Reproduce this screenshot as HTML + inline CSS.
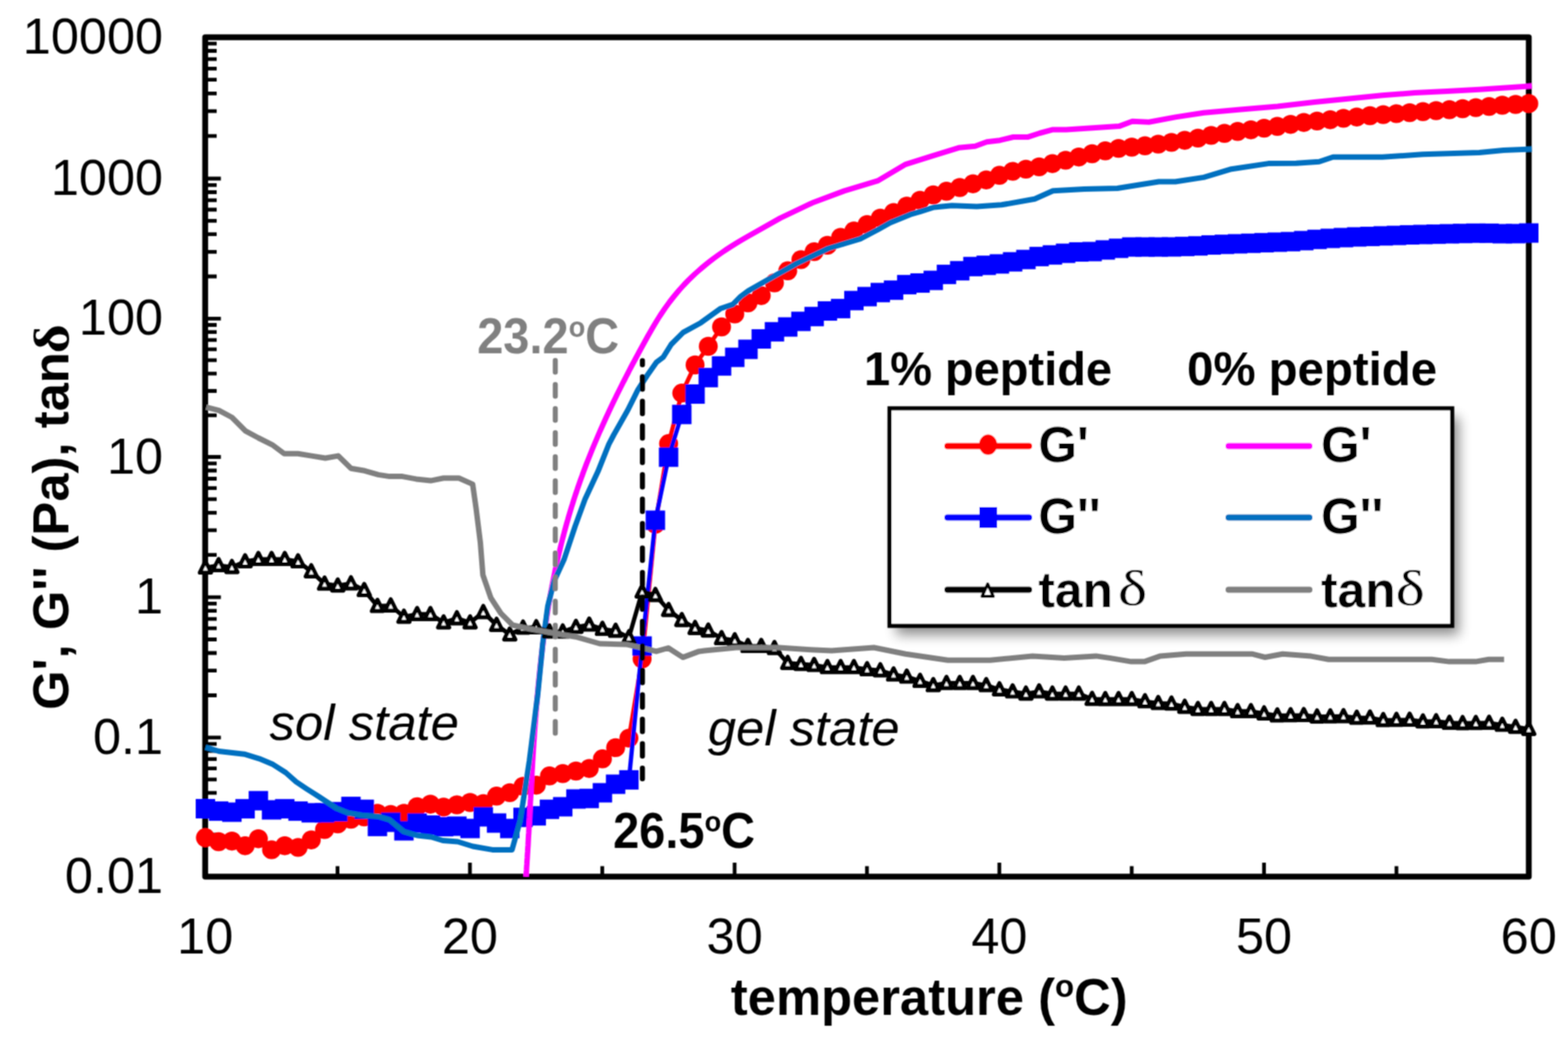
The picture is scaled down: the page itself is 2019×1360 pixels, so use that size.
<!DOCTYPE html>
<html><head><meta charset="utf-8"><title>chart</title>
<style>html,body{margin:0;padding:0;background:#fff;width:2019px;height:1360px;overflow:hidden}svg{display:block}</style>
</head><body>
<svg width="2019" height="1360" viewBox="0 0 2019 1360">
<defs><clipPath id="pc"><rect x="254.5" y="8.5" width="1724.0" height="1120.5"/></clipPath>
<filter id="sh" x="-10%" y="-20%" width="120%" height="140%"><feGaussianBlur stdDeviation="8"/></filter><filter id="soft" filterUnits="userSpaceOnUse" x="0" y="0" width="2019" height="1360"><feConvolveMatrix order="3" kernelMatrix="1 2 1 2 4 2 1 2 1" divisor="16" edgeMode="none"/></filter></defs>
<rect width="2019" height="1360" fill="#fff"/>
<g filter="url(#soft)">
<path d="M264.5 175.2H279.0M264.5 143.1H279.0M264.5 120.4H279.0M264.5 102.7H279.0M264.5 88.3H279.0M264.5 76.1H279.0M264.5 65.5H279.0M264.5 56.2H279.0M264.5 356.0H279.0M264.5 324.3H279.0M264.5 301.7H279.0M264.5 284.3H279.0M264.5 270.0H279.0M264.5 257.9H279.0M264.5 247.5H279.0M264.5 238.3H279.0M264.5 534.9H279.0M264.5 503.5H279.0M264.5 481.2H279.0M264.5 463.9H279.0M264.5 449.8H279.0M264.5 437.9H279.0M264.5 427.6H279.0M264.5 418.5H279.0M264.5 714.7H279.0M264.5 682.9H279.0M264.5 660.4H279.0M264.5 642.9H279.0M264.5 628.6H279.0M264.5 616.5H279.0M264.5 606.0H279.0M264.5 596.8H279.0M264.5 895.5H279.0M264.5 863.6H279.0M264.5 841.0H279.0M264.5 823.5H279.0M264.5 809.2H279.0M264.5 797.1H279.0M264.5 786.6H279.0M264.5 777.4H279.0M264.5 1075.0H279.0M264.5 1043.5H279.0M264.5 1021.1H279.0M264.5 1003.8H279.0M264.5 989.6H279.0M264.5 977.6H279.0M264.5 967.2H279.0M264.5 958.1H279.0M264.5 230.0H284.4M264.5 410.3H284.4M264.5 588.5H284.4M264.5 769.1H284.4M264.5 949.9H284.4M434.6 1129.0V1115.5M605.1 1129.0V1111.0M775.5 1129.0V1115.5M945.9 1129.0V1111.0M1116.3 1129.0V1115.5M1286.8 1129.0V1111.0M1457.2 1129.0V1115.5M1627.6 1129.0V1111.0M1798.1 1129.0V1115.5" stroke="#000" stroke-width="4.8" fill="none" stroke-linecap="butt"/>
<rect x="264.2" y="47.9" width="1704.3" height="1081.0" fill="none" stroke="#000" stroke-width="7.5" stroke-linejoin="round"/>
<text x="210" y="68.9" font-family="Liberation Sans, Arial, sans-serif" font-size="65" text-anchor="end">10000</text>
<text x="210" y="251.0" font-family="Liberation Sans, Arial, sans-serif" font-size="65" text-anchor="end">1000</text>
<text x="210" y="431.3" font-family="Liberation Sans, Arial, sans-serif" font-size="65" text-anchor="end">100</text>
<text x="210" y="609.5" font-family="Liberation Sans, Arial, sans-serif" font-size="65" text-anchor="end">10</text>
<text x="210" y="790.1" font-family="Liberation Sans, Arial, sans-serif" font-size="65" text-anchor="end">1</text>
<text x="210" y="970.9" font-family="Liberation Sans, Arial, sans-serif" font-size="65" text-anchor="end">0.1</text>
<text x="210" y="1149.9" font-family="Liberation Sans, Arial, sans-serif" font-size="65" text-anchor="end">0.01</text>
<text x="264.2" y="1227.5" font-family="Liberation Sans, Arial, sans-serif" font-size="65" text-anchor="middle">10</text>
<text x="605.1" y="1227.5" font-family="Liberation Sans, Arial, sans-serif" font-size="65" text-anchor="middle">20</text>
<text x="945.9" y="1227.5" font-family="Liberation Sans, Arial, sans-serif" font-size="65" text-anchor="middle">30</text>
<text x="1286.8" y="1227.5" font-family="Liberation Sans, Arial, sans-serif" font-size="65" text-anchor="middle">40</text>
<text x="1627.6" y="1227.5" font-family="Liberation Sans, Arial, sans-serif" font-size="65" text-anchor="middle">50</text>
<text x="1968.5" y="1227.5" font-family="Liberation Sans, Arial, sans-serif" font-size="65" text-anchor="middle">60</text>
<text transform="translate(1196.5,1307.5) scale(1.005,1.03)" font-family="Liberation Sans, Arial, sans-serif" font-size="65" font-weight="bold" text-anchor="middle">temperature (<tspan font-size="40" dy="-23">o</tspan><tspan dy="23">C)</tspan></text>
<text transform="translate(87.5,453.5) rotate(-90)" font-family="Liberation Sans, Arial, sans-serif" font-size="65.4" font-weight="bold" text-anchor="end">G', G'' (Pa), tan</text>
<text transform="translate(87.5,455) rotate(-90) scale(1.13,1)" font-family="Liberation Serif, serif" font-size="64" font-weight="bold">&#948;</text>
<polyline points="264.5,1078.8 281.5,1084.0 298.6,1083.2 315.6,1089.2 332.7,1080.2 349.7,1094.4 366.7,1089.2 383.8,1091.4 400.8,1081.7 417.9,1068.4 434.9,1061.0 451.9,1055.0 469.0,1052.0 486.0,1047.5 503.1,1049.0 520.1,1047.5 537.1,1039.0 554.2,1035.7 571.2,1039.4 588.3,1036.5 605.3,1033.5 622.3,1035.0 639.4,1025.3 656.4,1020.9 673.5,1012.7 690.5,1011.2 707.5,999.3 724.6,996.3 741.6,993.0 758.7,989.7 775.7,977.3 792.7,962.9 809.8,950.6 826.8,848.5 843.9,675.0 860.9,571.3 877.9,506.3 895.0,470.0 912.0,446.0 929.1,421.0 946.1,404.4 963.1,390.0 980.2,380.7 997.2,364.3 1014.3,348.8 1031.3,334.4 1048.3,324.1 1065.4,315.9 1082.4,305.6 1099.5,297.4 1116.5,289.1 1133.5,280.9 1150.6,273.7 1167.6,265.4 1184.7,257.9 1201.7,251.0 1218.7,246.3 1235.8,241.5 1252.8,236.7 1269.9,231.7 1286.9,225.8 1303.9,220.6 1321.0,217.9 1338.0,214.9 1355.1,210.7 1372.1,206.4 1389.1,202.2 1406.2,198.0 1423.2,194.3 1440.3,191.1 1457.3,189.5 1474.3,187.8 1491.4,185.6 1508.4,183.4 1525.5,180.7 1542.5,177.9 1559.5,174.4 1576.6,171.8 1593.6,169.3 1610.7,167.2 1627.7,165.1 1644.7,162.8 1661.8,160.2 1678.8,157.7 1695.9,155.9 1712.9,154.2 1729.9,152.4 1747.0,150.7 1764.0,149.0 1781.1,147.6 1798.1,146.4 1815.1,145.1 1832.2,143.8 1849.2,142.5 1866.3,141.3 1883.3,140.0 1900.3,138.6 1917.4,137.1 1934.4,135.5 1951.5,134.5 1968.5,133.4" fill="none" stroke="#FF0000" stroke-width="5.5" stroke-linejoin="round"/>
<g fill="#FF0000"><circle cx="264.5" cy="1078.8" r="12.2"/><circle cx="281.5" cy="1084.0" r="12.2"/><circle cx="298.6" cy="1083.2" r="12.2"/><circle cx="315.6" cy="1089.2" r="12.2"/><circle cx="332.7" cy="1080.2" r="12.2"/><circle cx="349.7" cy="1094.4" r="12.2"/><circle cx="366.7" cy="1089.2" r="12.2"/><circle cx="383.8" cy="1091.4" r="12.2"/><circle cx="400.8" cy="1081.7" r="12.2"/><circle cx="417.9" cy="1068.4" r="12.2"/><circle cx="434.9" cy="1061.0" r="12.2"/><circle cx="451.9" cy="1055.0" r="12.2"/><circle cx="469.0" cy="1052.0" r="12.2"/><circle cx="486.0" cy="1047.5" r="12.2"/><circle cx="503.1" cy="1049.0" r="12.2"/><circle cx="520.1" cy="1047.5" r="12.2"/><circle cx="537.1" cy="1039.0" r="12.2"/><circle cx="554.2" cy="1035.7" r="12.2"/><circle cx="571.2" cy="1039.4" r="12.2"/><circle cx="588.3" cy="1036.5" r="12.2"/><circle cx="605.3" cy="1033.5" r="12.2"/><circle cx="622.3" cy="1035.0" r="12.2"/><circle cx="639.4" cy="1025.3" r="12.2"/><circle cx="656.4" cy="1020.9" r="12.2"/><circle cx="673.5" cy="1012.7" r="12.2"/><circle cx="690.5" cy="1011.2" r="12.2"/><circle cx="707.5" cy="999.3" r="12.2"/><circle cx="724.6" cy="996.3" r="12.2"/><circle cx="741.6" cy="993.0" r="12.2"/><circle cx="758.7" cy="989.7" r="12.2"/><circle cx="775.7" cy="977.3" r="12.2"/><circle cx="792.7" cy="962.9" r="12.2"/><circle cx="809.8" cy="950.6" r="12.2"/><circle cx="826.8" cy="848.5" r="12.2"/><circle cx="843.9" cy="675.0" r="12.2"/><circle cx="860.9" cy="571.3" r="12.2"/><circle cx="877.9" cy="506.3" r="12.2"/><circle cx="895.0" cy="470.0" r="12.2"/><circle cx="912.0" cy="446.0" r="12.2"/><circle cx="929.1" cy="421.0" r="12.2"/><circle cx="946.1" cy="404.4" r="12.2"/><circle cx="963.1" cy="390.0" r="12.2"/><circle cx="980.2" cy="380.7" r="12.2"/><circle cx="997.2" cy="364.3" r="12.2"/><circle cx="1014.3" cy="348.8" r="12.2"/><circle cx="1031.3" cy="334.4" r="12.2"/><circle cx="1048.3" cy="324.1" r="12.2"/><circle cx="1065.4" cy="315.9" r="12.2"/><circle cx="1082.4" cy="305.6" r="12.2"/><circle cx="1099.5" cy="297.4" r="12.2"/><circle cx="1116.5" cy="289.1" r="12.2"/><circle cx="1133.5" cy="280.9" r="12.2"/><circle cx="1150.6" cy="273.7" r="12.2"/><circle cx="1167.6" cy="265.4" r="12.2"/><circle cx="1184.7" cy="257.9" r="12.2"/><circle cx="1201.7" cy="251.0" r="12.2"/><circle cx="1218.7" cy="246.3" r="12.2"/><circle cx="1235.8" cy="241.5" r="12.2"/><circle cx="1252.8" cy="236.7" r="12.2"/><circle cx="1269.9" cy="231.7" r="12.2"/><circle cx="1286.9" cy="225.8" r="12.2"/><circle cx="1303.9" cy="220.6" r="12.2"/><circle cx="1321.0" cy="217.9" r="12.2"/><circle cx="1338.0" cy="214.9" r="12.2"/><circle cx="1355.1" cy="210.7" r="12.2"/><circle cx="1372.1" cy="206.4" r="12.2"/><circle cx="1389.1" cy="202.2" r="12.2"/><circle cx="1406.2" cy="198.0" r="12.2"/><circle cx="1423.2" cy="194.3" r="12.2"/><circle cx="1440.3" cy="191.1" r="12.2"/><circle cx="1457.3" cy="189.5" r="12.2"/><circle cx="1474.3" cy="187.8" r="12.2"/><circle cx="1491.4" cy="185.6" r="12.2"/><circle cx="1508.4" cy="183.4" r="12.2"/><circle cx="1525.5" cy="180.7" r="12.2"/><circle cx="1542.5" cy="177.9" r="12.2"/><circle cx="1559.5" cy="174.4" r="12.2"/><circle cx="1576.6" cy="171.8" r="12.2"/><circle cx="1593.6" cy="169.3" r="12.2"/><circle cx="1610.7" cy="167.2" r="12.2"/><circle cx="1627.7" cy="165.1" r="12.2"/><circle cx="1644.7" cy="162.8" r="12.2"/><circle cx="1661.8" cy="160.2" r="12.2"/><circle cx="1678.8" cy="157.7" r="12.2"/><circle cx="1695.9" cy="155.9" r="12.2"/><circle cx="1712.9" cy="154.2" r="12.2"/><circle cx="1729.9" cy="152.4" r="12.2"/><circle cx="1747.0" cy="150.7" r="12.2"/><circle cx="1764.0" cy="149.0" r="12.2"/><circle cx="1781.1" cy="147.6" r="12.2"/><circle cx="1798.1" cy="146.4" r="12.2"/><circle cx="1815.1" cy="145.1" r="12.2"/><circle cx="1832.2" cy="143.8" r="12.2"/><circle cx="1849.2" cy="142.5" r="12.2"/><circle cx="1866.3" cy="141.3" r="12.2"/><circle cx="1883.3" cy="140.0" r="12.2"/><circle cx="1900.3" cy="138.6" r="12.2"/><circle cx="1917.4" cy="137.1" r="12.2"/><circle cx="1934.4" cy="135.5" r="12.2"/><circle cx="1951.5" cy="134.5" r="12.2"/><circle cx="1968.5" cy="133.4" r="12.2"/></g>
<polyline points="264.5,1041.5 281.5,1044.6 298.6,1046.0 315.6,1041.6 332.7,1031.2 349.7,1043.0 366.7,1041.6 383.8,1044.6 400.8,1046.8 417.9,1046.8 434.9,1045.3 451.9,1038.6 469.0,1042.3 486.0,1064.4 503.1,1059.0 520.1,1070.0 537.1,1060.0 554.2,1062.6 571.2,1064.7 588.3,1064.0 605.3,1067.0 622.3,1052.0 639.4,1060.0 656.4,1067.0 673.5,1052.7 690.5,1050.7 707.5,1042.3 724.6,1039.0 741.6,1029.0 758.7,1028.3 775.7,1021.0 792.7,1010.0 809.8,1004.4 826.8,832.0 843.9,670.0 860.9,588.8 877.9,533.8 895.0,507.5 912.0,486.3 929.1,471.3 946.1,460.2 963.1,449.9 980.2,436.5 997.2,427.3 1014.3,421.1 1031.3,413.9 1048.3,407.7 1065.4,400.5 1082.4,397.4 1099.5,387.1 1116.5,382.0 1133.5,376.8 1150.6,373.7 1167.6,366.6 1184.7,364.5 1201.7,361.1 1218.7,353.4 1235.8,348.7 1252.8,343.3 1269.9,341.7 1286.9,339.9 1303.9,337.2 1321.0,334.2 1338.0,330.4 1355.1,328.3 1372.1,326.2 1389.1,324.5 1406.2,324.0 1423.2,321.9 1440.3,319.8 1457.3,318.1 1474.3,318.1 1491.4,318.1 1508.4,318.0 1525.5,317.4 1542.5,316.8 1559.5,315.5 1576.6,314.7 1593.6,314.0 1610.7,313.3 1627.7,312.6 1644.7,311.9 1661.8,311.2 1678.8,309.9 1695.9,308.3 1712.9,307.0 1729.9,306.0 1747.0,305.1 1764.0,304.5 1781.1,303.8 1798.1,303.2 1815.1,302.5 1832.2,302.0 1849.2,301.6 1866.3,301.1 1883.3,300.7 1900.3,300.3 1917.4,300.4 1934.4,301.0 1951.5,300.9 1968.5,300.1" fill="none" stroke="#0000FF" stroke-width="5.5" stroke-linejoin="round"/>
<g fill="#0000FF"><rect x="252.0" y="1029.0" width="25" height="25"/><rect x="269.0" y="1032.1" width="25" height="25"/><rect x="286.1" y="1033.5" width="25" height="25"/><rect x="303.1" y="1029.1" width="25" height="25"/><rect x="320.2" y="1018.7" width="25" height="25"/><rect x="337.2" y="1030.5" width="25" height="25"/><rect x="354.2" y="1029.1" width="25" height="25"/><rect x="371.3" y="1032.1" width="25" height="25"/><rect x="388.3" y="1034.3" width="25" height="25"/><rect x="405.4" y="1034.3" width="25" height="25"/><rect x="422.4" y="1032.8" width="25" height="25"/><rect x="439.4" y="1026.1" width="25" height="25"/><rect x="456.5" y="1029.8" width="25" height="25"/><rect x="473.5" y="1051.9" width="25" height="25"/><rect x="490.6" y="1046.5" width="25" height="25"/><rect x="507.6" y="1057.5" width="25" height="25"/><rect x="524.6" y="1047.5" width="25" height="25"/><rect x="541.7" y="1050.1" width="25" height="25"/><rect x="558.7" y="1052.2" width="25" height="25"/><rect x="575.8" y="1051.5" width="25" height="25"/><rect x="592.8" y="1054.5" width="25" height="25"/><rect x="609.8" y="1039.5" width="25" height="25"/><rect x="626.9" y="1047.5" width="25" height="25"/><rect x="643.9" y="1054.5" width="25" height="25"/><rect x="661.0" y="1040.2" width="25" height="25"/><rect x="678.0" y="1038.2" width="25" height="25"/><rect x="695.0" y="1029.8" width="25" height="25"/><rect x="712.1" y="1026.5" width="25" height="25"/><rect x="729.1" y="1016.5" width="25" height="25"/><rect x="746.2" y="1015.8" width="25" height="25"/><rect x="763.2" y="1008.5" width="25" height="25"/><rect x="780.2" y="997.5" width="25" height="25"/><rect x="797.3" y="991.9" width="25" height="25"/><rect x="814.3" y="819.5" width="25" height="25"/><rect x="831.4" y="657.5" width="25" height="25"/><rect x="848.4" y="576.3" width="25" height="25"/><rect x="865.4" y="521.3" width="25" height="25"/><rect x="882.5" y="495.0" width="25" height="25"/><rect x="899.5" y="473.8" width="25" height="25"/><rect x="916.6" y="458.8" width="25" height="25"/><rect x="933.6" y="447.7" width="25" height="25"/><rect x="950.6" y="437.4" width="25" height="25"/><rect x="967.7" y="424.0" width="25" height="25"/><rect x="984.7" y="414.8" width="25" height="25"/><rect x="1001.8" y="408.6" width="25" height="25"/><rect x="1018.8" y="401.4" width="25" height="25"/><rect x="1035.8" y="395.2" width="25" height="25"/><rect x="1052.9" y="388.0" width="25" height="25"/><rect x="1069.9" y="384.9" width="25" height="25"/><rect x="1087.0" y="374.6" width="25" height="25"/><rect x="1104.0" y="369.5" width="25" height="25"/><rect x="1121.0" y="364.3" width="25" height="25"/><rect x="1138.1" y="361.2" width="25" height="25"/><rect x="1155.1" y="354.1" width="25" height="25"/><rect x="1172.2" y="352.0" width="25" height="25"/><rect x="1189.2" y="348.6" width="25" height="25"/><rect x="1206.2" y="340.9" width="25" height="25"/><rect x="1223.3" y="336.2" width="25" height="25"/><rect x="1240.3" y="330.8" width="25" height="25"/><rect x="1257.4" y="329.2" width="25" height="25"/><rect x="1274.4" y="327.4" width="25" height="25"/><rect x="1291.4" y="324.7" width="25" height="25"/><rect x="1308.5" y="321.7" width="25" height="25"/><rect x="1325.5" y="317.9" width="25" height="25"/><rect x="1342.6" y="315.8" width="25" height="25"/><rect x="1359.6" y="313.7" width="25" height="25"/><rect x="1376.6" y="312.0" width="25" height="25"/><rect x="1393.7" y="311.5" width="25" height="25"/><rect x="1410.7" y="309.4" width="25" height="25"/><rect x="1427.8" y="307.3" width="25" height="25"/><rect x="1444.8" y="305.6" width="25" height="25"/><rect x="1461.8" y="305.6" width="25" height="25"/><rect x="1478.9" y="305.6" width="25" height="25"/><rect x="1495.9" y="305.5" width="25" height="25"/><rect x="1513.0" y="304.9" width="25" height="25"/><rect x="1530.0" y="304.2" width="25" height="25"/><rect x="1547.0" y="303.0" width="25" height="25"/><rect x="1564.1" y="302.2" width="25" height="25"/><rect x="1581.1" y="301.5" width="25" height="25"/><rect x="1598.2" y="300.8" width="25" height="25"/><rect x="1615.2" y="300.1" width="25" height="25"/><rect x="1632.2" y="299.4" width="25" height="25"/><rect x="1649.3" y="298.7" width="25" height="25"/><rect x="1666.3" y="297.4" width="25" height="25"/><rect x="1683.4" y="295.8" width="25" height="25"/><rect x="1700.4" y="294.5" width="25" height="25"/><rect x="1717.4" y="293.5" width="25" height="25"/><rect x="1734.5" y="292.6" width="25" height="25"/><rect x="1751.5" y="292.0" width="25" height="25"/><rect x="1768.6" y="291.3" width="25" height="25"/><rect x="1785.6" y="290.7" width="25" height="25"/><rect x="1802.6" y="290.0" width="25" height="25"/><rect x="1819.7" y="289.5" width="25" height="25"/><rect x="1836.7" y="289.1" width="25" height="25"/><rect x="1853.8" y="288.6" width="25" height="25"/><rect x="1870.8" y="288.2" width="25" height="25"/><rect x="1887.8" y="287.8" width="25" height="25"/><rect x="1904.9" y="287.9" width="25" height="25"/><rect x="1921.9" y="288.5" width="25" height="25"/><rect x="1939.0" y="288.4" width="25" height="25"/><rect x="1956.0" y="287.6" width="25" height="25"/></g>
<g clip-path="url(#pc)">
<polyline points="677.3,1129.0 677.6,1125.0 677.9,1121.0 678.1,1117.0 678.4,1113.0 678.6,1109.0 678.9,1105.0 679.1,1101.0 679.4,1097.0 679.6,1093.0 679.9,1089.0 680.1,1085.0 680.3,1081.0 680.5,1077.0 680.8,1073.0 681.0,1069.0 681.2,1065.0 681.4,1061.0 681.6,1057.0 681.9,1053.0 682.1,1049.0 682.3,1045.0 682.5,1041.0 682.7,1037.0 682.9,1033.0 683.2,1029.0 683.4,1025.0 683.6,1021.0 683.8,1017.0 684.0,1013.0 684.2,1009.0 684.5,1005.0 684.7,1001.0 684.9,997.0 685.1,993.0 685.4,989.0 685.6,985.0 685.8,981.0 686.1,977.0 686.3,973.0 686.6,969.0 686.8,965.0 687.1,961.0 687.3,957.0 687.6,953.0 687.9,949.0 688.1,945.0 688.4,941.0 688.7,937.0 689.0,933.0 689.3,929.0 689.6,925.0 689.9,921.0 690.2,917.0 690.5,913.0 690.8,909.0 691.2,905.0 691.5,901.0 691.8,897.0 692.2,893.0 692.6,889.0 692.9,885.0 693.3,881.0 693.7,877.0 694.1,873.0 694.5,869.0 694.9,865.0 695.3,861.0 695.8,857.0 696.2,853.0 696.7,849.0 697.1,845.0 697.6,841.0 698.1,837.0 698.6,833.0 699.1,829.0 699.6,825.0 700.1,821.0 700.7,817.0 701.2,813.0 701.8,809.0 702.4,805.0 703.0,801.0 703.6,797.0 704.2,793.0 704.8,789.0 705.5,785.0 706.1,781.0 706.8,777.0 707.5,773.0 708.2,769.0 708.9,765.0 709.7,761.0 710.4,757.0 711.2,753.0 712.0,749.0 712.8,745.0 713.6,741.0 714.4,737.0 715.2,733.0 716.1,729.0 717.0,725.0 717.9,721.0 718.8,717.0 719.7,713.0 720.7,709.0 721.6,705.0 722.6,701.0 723.6,697.0 724.6,693.0 725.7,689.0 726.7,685.0 727.8,681.0 728.9,677.0 730.0,673.0 731.2,669.0 732.3,665.0 733.5,661.0 734.7,657.0 735.9,653.0 737.2,649.0 738.4,645.0 739.7,641.0 741.0,637.0 742.4,633.0 743.7,629.0 745.1,625.0 746.5,621.0 747.9,617.0 749.4,613.0 750.8,609.0 752.3,605.0 753.8,601.0 755.3,597.0 756.9,593.0 758.5,589.0 760.1,585.0 761.7,581.0 763.3,577.0 765.0,573.0 766.7,569.0 768.4,565.0 770.1,561.0 771.8,557.0 773.6,553.0 775.4,549.0 777.2,545.0 779.0,541.0 780.8,537.0 782.7,533.0 784.5,529.0 786.4,525.0 788.3,521.0 790.2,517.0 792.2,513.0 794.1,509.0 796.1,505.0 798.1,501.0 800.1,497.0 802.1,493.0 804.2,489.0 806.2,485.0 808.3,481.0 810.3,477.0 812.4,473.0 814.5,469.0 816.7,465.0 818.8,461.0 821.0,457.0 823.1,453.0 825.3,449.0 827.5,445.0 829.7,441.0 831.9,437.0 834.1,433.0 836.4,429.0 838.7,425.0 841.0,421.0 843.4,417.0 845.8,413.0 848.3,409.0 850.9,405.0 853.6,401.0 856.3,397.0 859.2,393.0 862.1,389.0 865.2,385.0 868.4,381.0 871.7,377.0 875.1,373.0 878.7,369.0 882.4,365.0 886.3,361.0 890.4,357.0 894.6,353.0 899.1,349.0 903.7,345.0 908.5,341.0 913.5,337.0 918.7,333.0 924.2,329.0 929.9,325.0 935.8,321.0 942.0,317.0 948.4,313.0 955.1,309.0 962.0,305.0 1004.7,280.9 1045.9,261.3 1087.0,245.9 1130.0,232.9 1166.2,211.6 1200.3,200.9 1234.4,190.3 1255.7,188.2 1270.6,182.8 1287.6,180.7 1304.7,176.5 1323.8,176.4 1338.7,171.5 1355.8,166.9 1372.8,166.9 1406.9,164.7 1441.0,162.6 1458.0,156.2 1479.3,157.3 1513.4,150.9 1550.0,145.2 1597.5,141.0 1645.1,136.9 1692.6,131.5 1740.2,126.7 1780.0,122.8 1821.6,119.6 1863.2,117.6 1904.8,115.2 1946.4,112.6 1972.4,110.8" fill="none" stroke="#FF00FF" stroke-width="7" stroke-linejoin="round"/>
<polyline points="264.7,962.3 281.7,967.5 314.4,971.2 333.8,977.1 351.6,984.6 367.9,995.0 381.3,1006.9 394.7,1015.8 411.0,1026.2 433.3,1041.0 448.2,1047.0 466.0,1050.0 486.8,1051.4 501.7,1055.9 519.5,1070.8 537.3,1076.0 555.3,1078.0 570.1,1082.5 589.4,1084.0 608.8,1090.0 634.0,1094.4 659.3,1094.4 669.7,1057.3 677.1,1009.7 681.6,980.0 684.3,958.9 692.4,894.2 698.8,829.4 705.3,780.9 713.4,748.5 726.5,720.0 740.6,677.6 753.5,642.4 770.0,607.1 784.1,571.8 790.3,560.0 808.3,528.3 821.5,501.8 833.0,484.0 845.3,466.5 854.0,460.0 864.3,443.5 879.7,428.1 902.4,415.7 928.1,397.2 943.5,392.1 953.8,381.8 963.5,374.6 994.4,357.0 1025.3,339.6 1066.5,320.0 1107.7,307.7 1130.0,296.0 1146.5,286.7 1174.1,275.6 1185.4,272.3 1202.4,267.0 1225.8,264.8 1257.8,265.9 1289.7,263.8 1332.3,256.3 1355.8,245.7 1396.2,243.5 1438.8,242.5 1492.1,234.0 1513.4,234.0 1550.0,228.4 1585.7,217.7 1633.2,210.6 1668.9,210.3 1698.6,208.2 1716.4,202.2 1780.0,202.3 1832.0,198.7 1904.8,196.6 1936.0,193.5 1972.4,192.1" fill="none" stroke="#0070C0" stroke-width="7" stroke-linejoin="round"/>
</g>
<polyline points="264.5,731.1 281.5,728.1 298.6,730.5 315.6,723.2 332.7,720.2 349.7,720.2 366.7,720.2 383.8,723.2 400.8,736.0 417.9,751.9 434.9,754.3 451.9,751.5 469.0,760.2 486.0,780.6 503.1,780.0 520.1,794.5 537.1,791.1 554.2,791.1 571.2,801.8 588.3,796.5 605.3,801.8 622.3,788.5 639.4,805.0 656.4,817.3 673.5,808.5 690.5,808.0 707.5,813.5 724.6,813.5 741.6,807.6 758.7,804.7 775.7,810.1 792.7,812.6 809.8,821.0 826.8,762.0 843.9,766.5 860.9,785.8 877.9,798.8 895.0,809.0 912.0,812.3 929.1,822.1 946.1,824.8 963.1,832.2 980.2,832.2 997.2,834.9 1014.3,854.0 1031.3,855.3 1048.3,856.7 1065.4,859.4 1082.4,859.4 1099.5,859.4 1116.5,862.1 1133.5,863.5 1150.6,868.9 1167.6,871.7 1184.7,877.1 1201.7,882.6 1218.7,879.8 1235.8,879.8 1252.8,879.8 1269.9,882.6 1286.9,888.0 1303.9,890.7 1321.0,893.5 1338.0,890.7 1355.1,893.5 1372.1,893.5 1389.1,893.5 1406.2,900.3 1423.2,900.6 1440.3,900.6 1457.3,900.6 1474.3,903.4 1491.4,905.7 1508.4,906.3 1525.5,910.5 1542.5,913.3 1559.5,913.3 1576.6,913.3 1593.6,916.1 1610.7,916.1 1627.7,919.0 1644.7,921.6 1661.8,921.4 1678.8,921.2 1695.9,923.0 1712.9,922.8 1729.9,922.6 1747.0,924.6 1764.0,924.4 1781.1,927.6 1798.1,927.4 1815.1,927.2 1832.2,929.3 1849.2,929.1 1866.3,931.1 1883.3,931.5 1900.3,931.3 1917.4,931.1 1934.4,933.7 1951.5,936.3 1968.5,939.0" fill="none" stroke="#000" stroke-width="5.5" stroke-linejoin="round"/>
<path d="M264.5 722.9L271.7 737.4L257.3 737.4ZM281.5 719.9L288.7 734.4L274.3 734.4ZM298.6 722.3L305.8 736.8L291.4 736.8ZM315.6 715.0L322.8 729.5L308.4 729.5ZM332.7 712.0L339.9 726.5L325.5 726.5ZM349.7 712.0L356.9 726.5L342.5 726.5ZM366.7 712.0L373.9 726.5L359.5 726.5ZM383.8 715.0L391.0 729.5L376.6 729.5ZM400.8 727.8L408.0 742.3L393.6 742.3ZM417.9 743.7L425.1 758.2L410.7 758.2ZM434.9 746.1L442.1 760.6L427.7 760.6ZM451.9 743.3L459.1 757.8L444.7 757.8ZM469.0 752.0L476.2 766.5L461.8 766.5ZM486.0 772.4L493.2 786.9L478.8 786.9ZM503.1 771.8L510.3 786.3L495.9 786.3ZM520.1 786.3L527.3 800.8L512.9 800.8ZM537.1 782.9L544.3 797.4L529.9 797.4ZM554.2 782.9L561.4 797.4L547.0 797.4ZM571.2 793.6L578.4 808.1L564.0 808.1ZM588.3 788.3L595.5 802.8L581.1 802.8ZM605.3 793.6L612.5 808.1L598.1 808.1ZM622.3 780.3L629.5 794.8L615.1 794.8ZM639.4 796.8L646.6 811.3L632.2 811.3ZM656.4 809.1L663.6 823.6L649.2 823.6ZM673.5 800.3L680.7 814.8L666.3 814.8ZM690.5 799.8L697.7 814.3L683.3 814.3ZM707.5 805.3L714.7 819.8L700.3 819.8ZM724.6 805.3L731.8 819.8L717.4 819.8ZM741.6 799.4L748.8 813.9L734.4 813.9ZM758.7 796.5L765.9 811.0L751.5 811.0ZM775.7 801.9L782.9 816.4L768.5 816.4ZM792.7 804.4L799.9 818.9L785.5 818.9ZM809.8 812.8L817.0 827.3L802.6 827.3ZM826.8 753.8L834.0 768.3L819.6 768.3ZM843.9 758.3L851.1 772.8L836.7 772.8ZM860.9 777.6L868.1 792.1L853.7 792.1ZM877.9 790.6L885.1 805.1L870.7 805.1ZM895.0 800.8L902.2 815.3L887.8 815.3ZM912.0 804.1L919.2 818.6L904.8 818.6ZM929.1 813.9L936.3 828.4L921.9 828.4ZM946.1 816.6L953.3 831.1L938.9 831.1ZM963.1 824.0L970.3 838.5L955.9 838.5ZM980.2 824.0L987.4 838.5L973.0 838.5ZM997.2 826.7L1004.4 841.2L990.0 841.2ZM1014.3 845.8L1021.5 860.3L1007.1 860.3ZM1031.3 847.1L1038.5 861.6L1024.1 861.6ZM1048.3 848.5L1055.5 863.0L1041.1 863.0ZM1065.4 851.2L1072.6 865.7L1058.2 865.7ZM1082.4 851.2L1089.6 865.7L1075.2 865.7ZM1099.5 851.2L1106.7 865.7L1092.3 865.7ZM1116.5 853.9L1123.7 868.4L1109.3 868.4ZM1133.5 855.3L1140.7 869.8L1126.3 869.8ZM1150.6 860.7L1157.8 875.2L1143.4 875.2ZM1167.6 863.5L1174.8 878.0L1160.4 878.0ZM1184.7 868.9L1191.9 883.4L1177.5 883.4ZM1201.7 874.4L1208.9 888.9L1194.5 888.9ZM1218.7 871.6L1225.9 886.1L1211.5 886.1ZM1235.8 871.6L1243.0 886.1L1228.6 886.1ZM1252.8 871.6L1260.0 886.1L1245.6 886.1ZM1269.9 874.4L1277.1 888.9L1262.7 888.9ZM1286.9 879.8L1294.1 894.3L1279.7 894.3ZM1303.9 882.5L1311.1 897.0L1296.7 897.0ZM1321.0 885.3L1328.2 899.8L1313.8 899.8ZM1338.0 882.5L1345.2 897.0L1330.8 897.0ZM1355.1 885.3L1362.3 899.8L1347.9 899.8ZM1372.1 885.3L1379.3 899.8L1364.9 899.8ZM1389.1 885.3L1396.3 899.8L1381.9 899.8ZM1406.2 892.1L1413.4 906.6L1399.0 906.6ZM1423.2 892.4L1430.4 906.9L1416.0 906.9ZM1440.3 892.4L1447.5 906.9L1433.1 906.9ZM1457.3 892.4L1464.5 906.9L1450.1 906.9ZM1474.3 895.2L1481.5 909.7L1467.1 909.7ZM1491.4 897.5L1498.6 912.0L1484.2 912.0ZM1508.4 898.1L1515.6 912.6L1501.2 912.6ZM1525.5 902.3L1532.7 916.8L1518.3 916.8ZM1542.5 905.1L1549.7 919.6L1535.3 919.6ZM1559.5 905.1L1566.7 919.6L1552.3 919.6ZM1576.6 905.1L1583.8 919.6L1569.4 919.6ZM1593.6 907.9L1600.8 922.4L1586.4 922.4ZM1610.7 907.9L1617.9 922.4L1603.5 922.4ZM1627.7 910.8L1634.9 925.3L1620.5 925.3ZM1644.7 913.4L1651.9 927.9L1637.5 927.9ZM1661.8 913.2L1669.0 927.7L1654.6 927.7ZM1678.8 913.0L1686.0 927.5L1671.6 927.5ZM1695.9 914.8L1703.1 929.3L1688.7 929.3ZM1712.9 914.6L1720.1 929.1L1705.7 929.1ZM1729.9 914.4L1737.1 928.9L1722.7 928.9ZM1747.0 916.4L1754.2 930.9L1739.8 930.9ZM1764.0 916.2L1771.2 930.7L1756.8 930.7ZM1781.1 919.4L1788.3 933.9L1773.9 933.9ZM1798.1 919.2L1805.3 933.7L1790.9 933.7ZM1815.1 919.0L1822.3 933.5L1807.9 933.5ZM1832.2 921.1L1839.4 935.6L1825.0 935.6ZM1849.2 920.9L1856.4 935.4L1842.0 935.4ZM1866.3 922.9L1873.5 937.4L1859.1 937.4ZM1883.3 923.3L1890.5 937.8L1876.1 937.8ZM1900.3 923.1L1907.5 937.6L1893.1 937.6ZM1917.4 922.9L1924.6 937.4L1910.2 937.4ZM1934.4 925.5L1941.6 940.0L1927.2 940.0ZM1951.5 928.1L1958.7 942.6L1944.3 942.6ZM1968.5 930.8L1975.7 945.3L1961.3 945.3Z" fill="#fff" stroke="#000" stroke-width="5.2" stroke-linejoin="round"/>
<polyline points="265.5,524.3 282.0,528.7 298.6,537.5 316.3,555.2 332.8,564.0 350.5,572.8 365.9,584.3 383.6,584.3 401.2,587.1 418.9,590.0 435.4,587.1 452.0,603.3 469.6,606.3 487.2,611.4 501.6,613.6 518.1,613.6 535.8,616.9 554.5,619.1 571.1,615.8 590.9,615.8 608.6,623.6 613.0,654.4 618.5,698.6 621.8,740.5 632.0,770.0 645.0,790.0 660.0,805.0 684.0,810.3 715.0,815.8 741.4,820.2 772.3,829.0 807.6,830.1 827.4,834.5 845.0,838.9 860.5,834.5 879.3,846.6 900.0,838.9 907.2,838.1 948.1,834.0 1002.6,834.0 1043.4,836.7 1070.7,838.1 1125.2,834.0 1166.0,842.2 1220.5,850.3 1275.0,850.3 1329.5,844.9 1370.3,847.6 1411.2,844.9 1430.0,847.6 1456.7,852.1 1473.6,852.1 1493.4,845.1 1527.3,842.2 1612.0,842.2 1628.9,846.5 1651.5,842.2 1688.2,845.1 1710.8,849.3 1843.5,849.3 1866.1,852.1 1900.0,852.1 1916.9,849.3 1936.7,849.3" fill="none" stroke="#808080" stroke-width="7" stroke-linejoin="round"/>
<path d="M715 464.2V947.5" stroke="#808080" stroke-width="6.5" stroke-dasharray="15 16" stroke-linecap="round" fill="none"/>
<path d="M827.2 464.6V1003" stroke="#000" stroke-width="6.5" stroke-dasharray="16 15.5" stroke-dashoffset="10.9" stroke-linecap="round" fill="none"/>
<text transform="translate(614.5,454.5) scale(0.975,1.05)" font-family="Liberation Sans, Arial, sans-serif" font-size="62" font-weight="bold" fill="#808080">23.2<tspan font-size="36" dy="-20">o</tspan><tspan dy="20">C</tspan></text>
<text transform="translate(789.5,1091.5) scale(0.975,1.05)" font-family="Liberation Sans, Arial, sans-serif" font-size="62" font-weight="bold">26.5<tspan font-size="36" dy="-20">o</tspan><tspan dy="20">C</tspan></text>
<text x="347" y="952.5" font-family="Liberation Sans, Arial, sans-serif" font-size="65.5" font-style="italic">sol state</text>
<text x="911.5" y="959.5" font-family="Liberation Sans, Arial, sans-serif" font-size="65.3" font-style="italic">gel state</text>
<text x="1112.5" y="495.5" font-family="Liberation Sans, Arial, sans-serif" font-size="60.5" font-weight="bold">1% peptide</text>
<text x="1528.5" y="495.5" font-family="Liberation Sans, Arial, sans-serif" font-size="61" font-weight="bold">0% peptide</text>
<rect x="1154" y="537.5" width="724.5" height="280" fill="#000" opacity="0.45" filter="url(#sh)"/>
<rect x="1145.4" y="525.9" width="724.5" height="280.1" fill="#fff" stroke="#000" stroke-width="5.3"/>
<path d="M1220 574.5H1325" stroke="#FF0000" stroke-width="8" stroke-linecap="round"/>
<ellipse cx="1272.3" cy="572.7" rx="11.6" ry="13.1" fill="#FF0000"/>
<path d="M1220 666.5H1325" stroke="#0000FF" stroke-width="8" stroke-linecap="round"/>
<rect x="1261" y="653.0" width="23" height="27" fill="#0000FF"/>
<path d="M1220 759.6H1325" stroke="#000" stroke-width="8" stroke-linecap="round"/>
<path d="M1271.8 752.1L1279 768.1L1264.5 768.1Z" fill="#fff" stroke="#000" stroke-width="4" stroke-linejoin="round"/>
<path d="M1582 574.5H1686" stroke="#FF00FF" stroke-width="8" stroke-linecap="round"/>
<path d="M1582 666.5H1686" stroke="#0070C0" stroke-width="8" stroke-linecap="round"/>
<path d="M1582 759.6H1686" stroke="#808080" stroke-width="8" stroke-linecap="round"/>
<text x="1337" y="594.5" font-family="Liberation Sans, Arial, sans-serif" font-size="64" font-weight="bold">G'</text>
<text x="1337" y="686.5" font-family="Liberation Sans, Arial, sans-serif" font-size="64" font-weight="bold">G''</text>
<text x="1337" y="781.5" font-family="Liberation Sans, Arial, sans-serif" font-size="64" font-weight="bold">tan</text>
<text transform="translate(1439.5,779.3) scale(1.25,1)" font-family="Liberation Serif, serif" font-size="64">&#948;</text>
<text x="1701" y="594.5" font-family="Liberation Sans, Arial, sans-serif" font-size="64" font-weight="bold">G'</text>
<text x="1701" y="686.5" font-family="Liberation Sans, Arial, sans-serif" font-size="64" font-weight="bold">G''</text>
<text x="1701" y="781.5" font-family="Liberation Sans, Arial, sans-serif" font-size="64" font-weight="bold">tan</text>
<text transform="translate(1797.0,779.3) scale(1.25,1)" font-family="Liberation Serif, serif" font-size="64">&#948;</text>
</g>
</svg>
</body></html>
